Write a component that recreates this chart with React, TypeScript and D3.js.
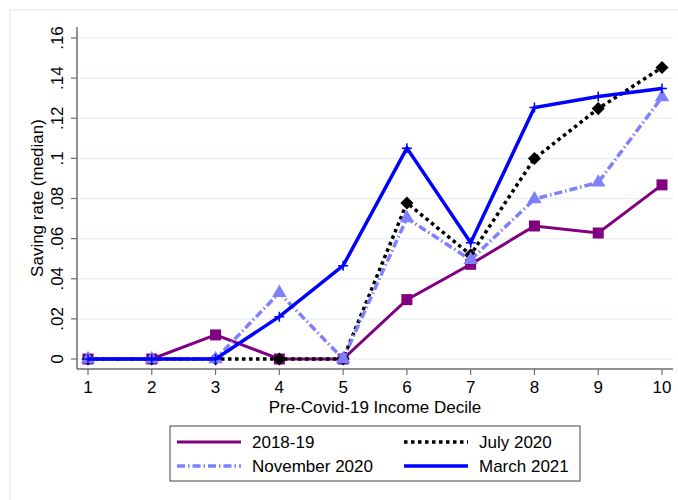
import * as d3 from "d3";
import { useEffect, useRef } from "react";

const deciles = [1, 2, 3, 4, 5, 6, 7, 8, 9, 10];
const yTicks = [0, 0.02, 0.04, 0.06, 0.08, 0.1, 0.12, 0.14, 0.16];
const yTickLabels = ["0", ".02", ".04", ".06", ".08", ".1", ".12", ".14", ".16"];

const s2018 = [0, 0, 0.012, 0, 0, 0.0296, 0.0472, 0.0663, 0.0628, 0.0868];
const sJul2020 = [0, 0, 0, 0, 0, 0.0778, 0.0519, 0.0999, 0.1248, 0.1453];
const sNov2020 = [0, 0, 0, 0.033, 0, 0.0702, 0.0494, 0.0797, 0.088, 0.1305];
const sMar2021 = [0, 0, 0, 0.0211, 0.0465, 0.1051, 0.058, 0.1253, 0.1308, 0.1348];

type Series = {
  label: string;
  values: number[];
  color: string;
  width: number;
  dash: string | null;
  marker: "square" | "diamond" | "triangle" | "plus";
};

const series: Series[] = [
  { label: "2018-19", values: s2018, color: "#800080", width: 3, dash: null, marker: "square" },
  { label: "July 2020", values: sJul2020, color: "#000000", width: 3.5, dash: "3.5,3.5", marker: "diamond" },
  { label: "November 2020", values: sNov2020, color: "#8080ff", width: 3.5, dash: "8,3,1.5,3", marker: "triangle" },
  { label: "March 2021", values: sMar2021, color: "#0000ff", width: 3.5, dash: null, marker: "plus" }
];

const font = "Arial, 'Liberation Sans', sans-serif";
const fs = 17;

export default function App() {
  const ref = useRef<SVGSVGElement | null>(null);

  useEffect(() => {
    if (!ref.current) return;
    const width = 678;
    const height = 500;
    const svg = d3.select(ref.current);
    svg.selectAll("*").remove();
    svg.attr("viewBox", `0 0 ${width} ${height}`);

    svg.append("rect").attr("width", width).attr("height", height).attr("fill", "#fff");
    // outer frame
    svg
      .append("rect")
      .attr("x", 10)
      .attr("y", 10)
      .attr("width", width)
      .attr("height", height)
      .attr("fill", "none")
      .attr("stroke", "#e6eef0")
      .attr("stroke-width", 1.5);

    const x = d3.scaleLinear().domain([1, 10]).range([88, 662]);
    const y = d3.scaleLinear().domain([0, 0.16]).range([359, 38]);
    const left = 77;
    const bottom = 369;
    const right = 673;

    // gridlines
    svg
      .append("g")
      .selectAll("line")
      .data(yTicks)
      .join("line")
      .attr("x1", left)
      .attr("x2", right)
      .attr("y1", (d) => y(d))
      .attr("y2", (d) => y(d))
      .attr("stroke", "#eaf1f4")
      .attr("stroke-width", 1.5);

    // y axis
    const yAxis = svg.append("g").attr("transform", `translate(${left},0)`);
    yAxis.append("line").attr("x1", 0).attr("x2", 0).attr("y1", 27).attr("y2", bottom).attr("stroke", "#6e6e6e").attr("stroke-width", 1.5);
    yTicks.forEach((t, i) => {
      yAxis.append("line").attr("x1", -6).attr("x2", 0).attr("y1", y(t)).attr("y2", y(t)).attr("stroke", "#6e6e6e").attr("stroke-width", 1.2);
      yAxis
        .append("text")
        .attr("transform", `translate(-14,${y(t)}) rotate(-90)`)
        .attr("text-anchor", "middle")
        .attr("font-family", font)
        .attr("font-size", fs)
        .attr("fill", "#000")
        .text(yTickLabels[i]);
    });
    svg
      .append("text")
      .attr("transform", `translate(43,198) rotate(-90)`)
      .attr("text-anchor", "middle")
      .attr("font-family", font)
      .attr("font-size", fs)
      .text("Saving rate (median)");

    // x axis
    const xAxis = svg.append("g").attr("transform", `translate(0,${bottom})`);
    xAxis.append("line").attr("x1", left).attr("x2", right).attr("y1", 0).attr("y2", 0).attr("stroke", "#6e6e6e").attr("stroke-width", 1.5);
    deciles.forEach((d) => {
      xAxis.append("line").attr("x1", x(d)).attr("x2", x(d)).attr("y1", 0).attr("y2", 6).attr("stroke", "#6e6e6e").attr("stroke-width", 1.2);
      xAxis
        .append("text")
        .attr("x", x(d))
        .attr("y", 24)
        .attr("text-anchor", "middle")
        .attr("font-family", font)
        .attr("font-size", fs)
        .text(String(d));
    });
    svg
      .append("text")
      .attr("x", 375)
      .attr("y", 413)
      .attr("text-anchor", "middle")
      .attr("font-family", font)
      .attr("font-size", fs)
      .text("Pre-Covid-19 Income Decile");

    const line = d3
      .line<number>()
      .x((_, i) => x(deciles[i]))
      .y((v) => y(v));

    series.forEach((s) => {
      const g = svg.append("g");
      g.append("path")
        .attr("d", line(s.values))
        .attr("fill", "none")
        .attr("stroke", s.color)
        .attr("stroke-width", s.width)
        .attr("stroke-dasharray", s.dash)
        .attr("stroke-linejoin", "miter");
      s.values.forEach((v, i) => {
        const cx = x(deciles[i]);
        const cy = y(v);
        if (s.marker === "square") {
          g.append("rect").attr("x", cx - 5.5).attr("y", cy - 5.5).attr("width", 11).attr("height", 11).attr("fill", s.color);
        } else if (s.marker === "diamond") {
          g.append("path").attr("d", d3.symbol(d3.symbolSquare, 85)()).attr("transform", `translate(${cx},${cy}) rotate(45)`).attr("fill", s.color);
        } else if (s.marker === "triangle") {
          g.append("path").attr("d", d3.symbol(d3.symbolTriangle, 90)()).attr("transform", `translate(${cx},${cy})`).attr("fill", s.color);
        } else {
          g.append("path")
            .attr("d", `M${cx - 5},${cy}H${cx + 5}M${cx},${cy - 5}V${cy + 5}`)
            .attr("stroke", s.color)
            .attr("stroke-width", 1.5);
        }
      });
    });

    // legend
    const lg = svg.append("g");
    lg.append("rect").attr("x", 170).attr("y", 426).attr("width", 410).attr("height", 55).attr("fill", "#fff").attr("stroke", "#444").attr("stroke-width", 1);
    const pos = [
      [177, 442],
      [404, 442],
      [177, 466],
      [404, 466]
    ];
    series.forEach((s, i) => {
      const [lx, ly] = pos[i];
      lg.append("line")
        .attr("x1", lx)
        .attr("x2", lx + 64)
        .attr("y1", ly)
        .attr("y2", ly)
        .attr("stroke", s.color)
        .attr("stroke-width", s.width)
        .attr("stroke-dasharray", s.dash);
      lg.append("text")
        .attr("x", lx + 75)
        .attr("y", ly + 6)
        .attr("font-family", font)
        .attr("font-size", fs)
        .text(s.label);
    });
  }, []);

  return <svg ref={ref} width={678} height={500} style={{ position: "absolute", left: 0, top: 0 }} />;
}
